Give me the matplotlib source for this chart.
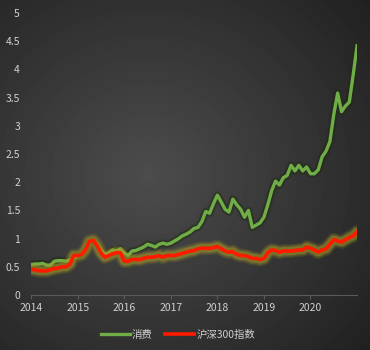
# 消费 vs 沪深300 normalized chart on dark gradient background
import matplotlib.pyplot as plt
import numpy as np

plt.rcParams['font.family'] = ['Noto Sans CJK SC', 'DejaVu Sans']

start_year = 2014
year_ticks = [2014, 2015, 2016, 2017, 2018, 2019, 2020]

consumer = [0.54, 0.55, 0.55, 0.56, 0.53, 0.53, 0.60, 0.61, 0.61, 0.60, 0.62, 0.65,
            0.70, 0.73, 0.80, 0.95, 0.97, 0.90, 0.80, 0.72, 0.75, 0.80, 0.78, 0.82,
            0.75, 0.70, 0.78, 0.79, 0.82, 0.85, 0.90, 0.88, 0.85, 0.90, 0.92, 0.90,
            0.92, 0.96, 1.00, 1.05, 1.08, 1.12, 1.18, 1.20, 1.30, 1.48, 1.45, 1.62,
            1.77, 1.65, 1.52, 1.47, 1.70, 1.60, 1.52, 1.38, 1.50, 1.20, 1.24, 1.28,
            1.38, 1.60, 1.85, 2.02, 1.95, 2.08, 2.12, 2.30, 2.20, 2.30, 2.20, 2.27,
            2.15, 2.15, 2.22, 2.45, 2.55, 2.72, 3.20, 3.58, 3.25, 3.35, 3.42, 3.90,
            4.42]
hs300 = [0.45, 0.45, 0.43, 0.43, 0.43, 0.45, 0.47, 0.48, 0.50, 0.50, 0.55, 0.70,
         0.70, 0.72, 0.80, 0.95, 0.97, 0.88, 0.75, 0.67, 0.70, 0.73, 0.75, 0.75,
         0.60, 0.60, 0.63, 0.63, 0.63, 0.65, 0.67, 0.67, 0.68, 0.70, 0.67, 0.70,
         0.70, 0.70, 0.72, 0.74, 0.76, 0.78, 0.79, 0.82, 0.83, 0.83, 0.83, 0.84,
         0.86, 0.82, 0.78, 0.76, 0.77, 0.72, 0.70, 0.70, 0.68, 0.65, 0.65, 0.63,
         0.65, 0.75, 0.80, 0.79, 0.76, 0.78, 0.78, 0.78, 0.79, 0.80, 0.80, 0.85,
         0.83, 0.80, 0.76, 0.80, 0.82, 0.90, 0.98, 0.96, 0.94, 0.98, 1.02, 1.05,
         1.12]

x = start_year + np.arange(len(consumer)) / 12.0

fig = plt.figure(figsize=(3.7, 3.5), dpi=100)

# radial gradient background
bg = fig.add_axes([0, 0, 1, 1], zorder=0)
gx, gy = np.meshgrid(np.linspace(0, 1, 370), np.linspace(0, 1, 350))
r = np.sqrt((gx - 0.4) ** 2 + (gy - 0.5) ** 2)
shade = np.clip(0.30 - 0.22 * r, 0.13, 0.30)
bg.imshow(shade, cmap='gray', vmin=0, vmax=1, aspect='auto', extent=[0, 1, 0, 1])
bg.axis('off')

ax = fig.add_axes([0.084, 0.157, 0.881, 0.806], zorder=1)
ax.patch.set_alpha(0)

# green line with dark shadow
for lw, a in [(6, 0.25), (4.5, 0.35)]:
    ax.plot(x, consumer, color='#1e2a10', lw=lw, alpha=a, solid_capstyle='round')
ax.plot(x, consumer, color='#70ad47', lw=2.4, label='消费')

# red line with yellow glow
for lw, a in [(10, 0.15), (8, 0.25), (6, 0.4)]:
    ax.plot(x, hs300, color='#a89a28', lw=lw, alpha=a, solid_capstyle='round')
ax.plot(x, hs300, color='#ff1a00', lw=2.6, label='沪深300指数')

ax.set_ylim(0, 5)
ax.set_xlim(start_year, x[-1])
ax.set_yticks(np.arange(0, 5.01, 0.5))
ax.set_yticklabels(['0', '0.5', '1', '1.5', '2', '2.5', '3', '3.5', '4', '4.5', '5'])
ax.set_xticks(year_ticks)
ax.set_xticklabels([str(y) for y in year_ticks])
ax.tick_params(axis='y', length=0, colors='#d0d0d0', labelsize=7.5, pad=8)
ax.tick_params(axis='x', length=3, color='#5a5a5a', colors='#d0d0d0', labelsize=7.5, pad=3)
for side in ['top', 'right', 'left']:
    ax.spines[side].set_visible(False)
ax.spines['bottom'].set_color('#5a5a5a')

leg = ax.legend(loc='upper center', bbox_to_anchor=(0.45, -0.09), ncol=2, frameon=False,
                fontsize=7.5, handlelength=2.8, handletextpad=0.2, columnspacing=1.2)
for t in leg.get_texts():
    t.set_color('#d0d0d0')

fig.savefig('out.png', dpi=100)
